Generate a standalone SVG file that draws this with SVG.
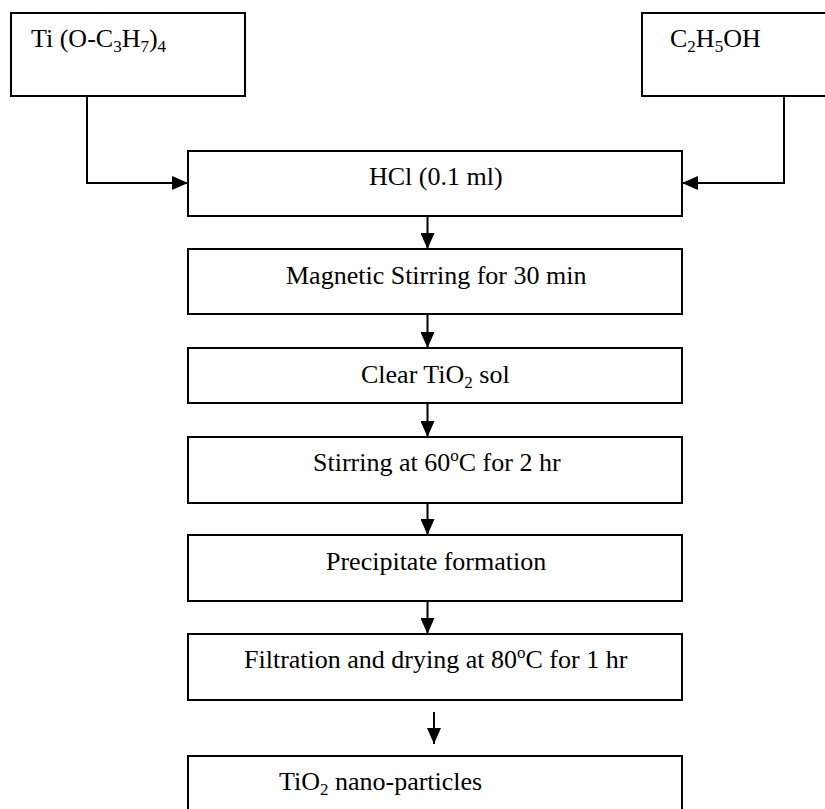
<svg xmlns="http://www.w3.org/2000/svg" width="825" height="809" viewBox="0 0 825 809">
<style>
.box{fill:#fff;stroke:#000;stroke-width:2}
.t{font-family:"Liberation Serif","Times New Roman",serif;font-size:26px;fill:#000}
.sub{font-size:17px}
.con{fill:none;stroke:#000;stroke-width:2}
</style>
<defs>
<marker id="ah" markerUnits="userSpaceOnUse" markerWidth="16" markerHeight="14" refX="16" refY="7" orient="auto">
<path d="M0,0 L16,7 L0,14 Z" fill="#000"/>
</marker>
</defs>
<rect width="825" height="809" fill="#fff"/>
<g id="connectors">
<path class="con" d="M87,96 V183 H188" marker-end="url(#ah)"/>
<path class="con" d="M784,96 V183 H682" marker-end="url(#ah)"/>
<path class="con" d="M427.5,216 V249" marker-end="url(#ah)"/>
<path class="con" d="M427.5,314 V348" marker-end="url(#ah)"/>
<path class="con" d="M427.5,403 V437" marker-end="url(#ah)"/>
<path class="con" d="M427.5,503 V535" marker-end="url(#ah)"/>
<path class="con" d="M427.5,601 V634" marker-end="url(#ah)"/>
<path class="con" d="M434,712 V744" marker-end="url(#ah)"/>
</g>
<g id="n-ti">
<rect class="box" x="11" y="13" width="234" height="83"/>
<text class="t" x="31" y="47">Ti (O-C<tspan class="sub" dy="5">3</tspan><tspan dy="-5">H</tspan><tspan class="sub" dy="5">7</tspan><tspan dy="-5">)</tspan><tspan class="sub" dy="5">4</tspan></text>
</g>
<g id="n-eth">
<rect class="box" x="642" y="13" width="200" height="83"/>
<text class="t" x="670" y="47">C<tspan class="sub" dy="5">2</tspan><tspan dy="-5">H</tspan><tspan class="sub" dy="5">5</tspan><tspan dy="-5">OH</tspan></text>
</g>
<g id="n-hcl">
<rect class="box" x="188" y="151" width="494" height="65"/>
<text class="t" x="369" y="185">HCl (0.1 ml)</text>
</g>
<g id="n-mag">
<rect class="box" x="188" y="249" width="494" height="65"/>
<text class="t" x="286" y="284">Magnetic Stirring for 30 min</text>
</g>
<g id="n-sol">
<rect class="box" x="188" y="348" width="494" height="55"/>
<text class="t" x="361" y="383">Clear TiO<tspan class="sub" dy="5">2</tspan><tspan dy="-5"> sol</tspan></text>
</g>
<g id="n-stir">
<rect class="box" x="188" y="437" width="494" height="66"/>
<text class="t" x="313" y="471">Stirring at 60<tspan class="sub" dy="-10">o</tspan><tspan dy="10">C for 2 hr</tspan></text>
</g>
<g id="n-prec">
<rect class="box" x="188" y="535" width="494" height="66"/>
<text class="t" x="326" y="570">Precipitate formation</text>
</g>
<g id="n-filt">
<rect class="box" x="188" y="634" width="494" height="66"/>
<text class="t" x="244" y="668">Filtration and drying at 80<tspan class="sub" dy="-10">o</tspan><tspan dy="10">C for 1 hr</tspan></text>
</g>
<g id="n-tio2">
<rect class="box" x="188" y="756" width="494" height="70"/>
<text class="t" x="279" y="790">TiO<tspan class="sub" dy="5">2</tspan><tspan dy="-5"> nano-particles</tspan></text>
</g>
</svg>
